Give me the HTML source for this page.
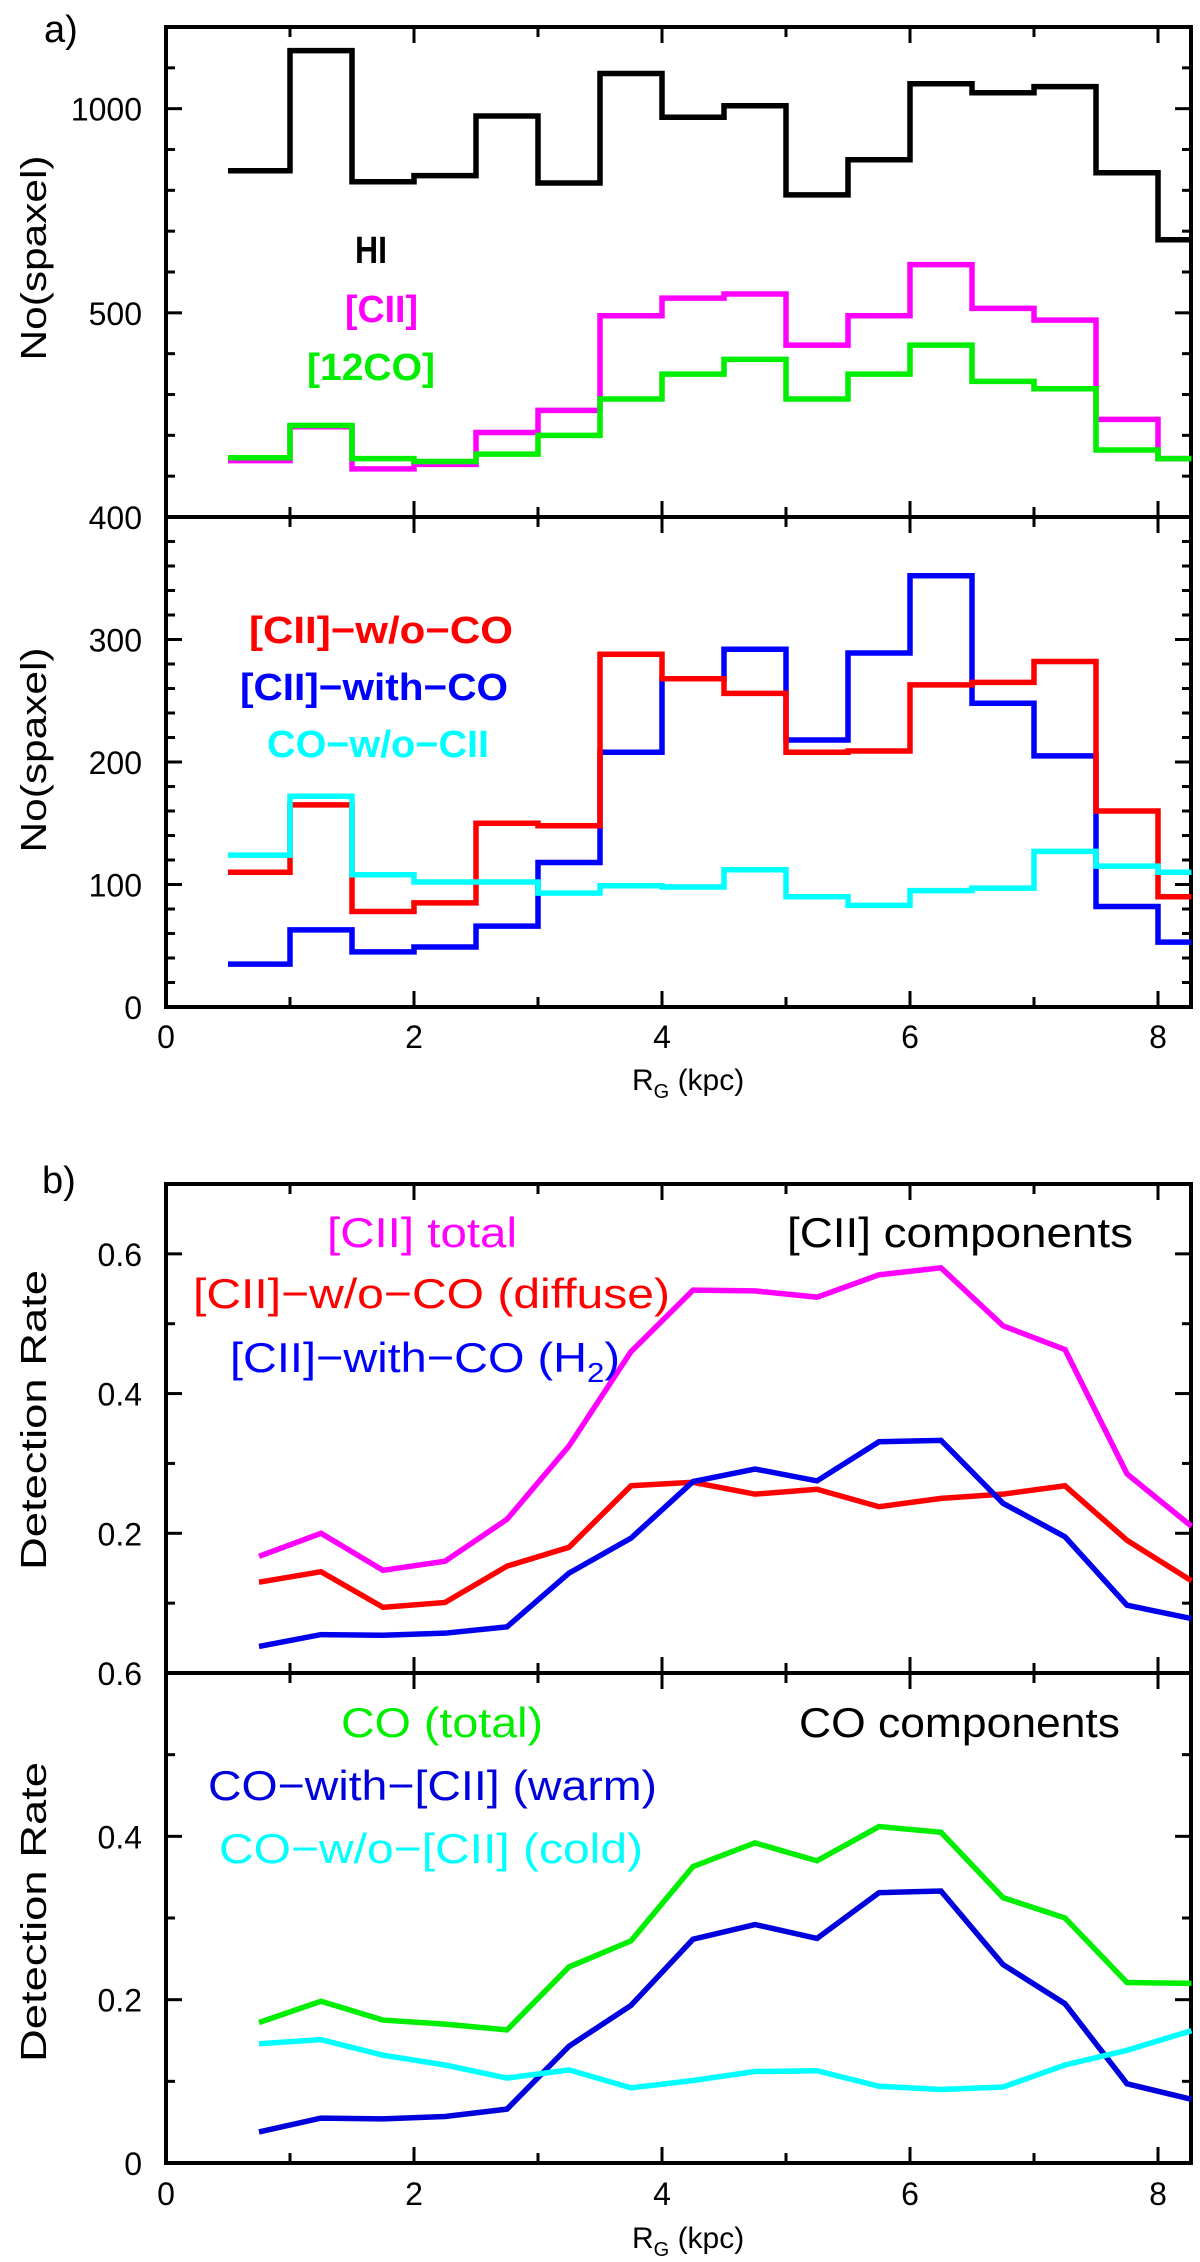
<!DOCTYPE html>
<html><head><meta charset="utf-8"><title>Spaxel counts and detection rates vs galactocentric radius</title>
<style>
html,body{margin:0;padding:0;background:#fff;}
svg{display:block;font-family:"Liberation Sans",sans-serif;}
</style></head>
<body>
<svg id="fig" width="1200" height="2262" viewBox="0 0 1200 2262" xmlns="http://www.w3.org/2000/svg">
<rect x="0" y="0" width="1200" height="2262" fill="#fff"/>
<g id="frames"></g>
<g id="marks"></g>
<g id="labels"></g>
<text x="44" y="42" font-size="38">a)</text>
<text x="42" y="1193" font-size="38">b)</text>
<text transform="translate(46,258) rotate(-90)" text-anchor="middle" font-size="36" textLength="205" lengthAdjust="spacingAndGlyphs">No(spaxel)</text>
<text transform="translate(46,750) rotate(-90)" text-anchor="middle" font-size="36" textLength="205" lengthAdjust="spacingAndGlyphs">No(spaxel)</text>
<text transform="translate(46,1420) rotate(-90)" text-anchor="middle" font-size="36" textLength="300" lengthAdjust="spacingAndGlyphs">Detection Rate</text>
<text transform="translate(46,1912) rotate(-90)" text-anchor="middle" font-size="36" textLength="300" lengthAdjust="spacingAndGlyphs">Detection Rate</text>
<text x="632" y="1090" font-size="30">R<tspan font-size="20" dy="8">G</tspan><tspan dy="-8"> (kpc)</tspan></text>
<text x="632" y="2248" font-size="30">R<tspan font-size="20" dy="8">G</tspan><tspan dy="-8"> (kpc)</tspan></text>
<!-- legends panel a -->
<text x="355" y="263" font-size="38" font-weight="bold" fill="#000" textLength="32" lengthAdjust="spacingAndGlyphs">HI</text>
<text x="345" y="322" font-size="38" font-weight="bold" fill="#ff00ff" textLength="73" lengthAdjust="spacingAndGlyphs">[CII]</text>
<text x="307" y="380" font-size="38" font-weight="bold" fill="#00ee00" textLength="128" lengthAdjust="spacingAndGlyphs">[12CO]</text>
<text x="249" y="643" font-size="38" font-weight="bold" fill="#ff0000" textLength="264" lengthAdjust="spacingAndGlyphs">[CII]−w/o−CO</text>
<text x="240" y="700" font-size="38" font-weight="bold" fill="#0000ff" textLength="268" lengthAdjust="spacingAndGlyphs">[CII]−with−CO</text>
<text x="267" y="757" font-size="38" font-weight="bold" fill="#00ffff" textLength="222" lengthAdjust="spacingAndGlyphs">CO−w/o−CII</text>
<!-- legends panel b -->
<text x="327" y="1247" font-size="42" fill="#ff00ff" textLength="190" lengthAdjust="spacingAndGlyphs">[CII] total</text>
<text x="787" y="1247" font-size="42" fill="#000" textLength="346" lengthAdjust="spacingAndGlyphs">[CII] components</text>
<text x="193" y="1308" font-size="42" fill="#ff0000" textLength="477" lengthAdjust="spacingAndGlyphs">[CII]−w/o−CO (diffuse)</text>
<text x="230" y="1372" font-size="42" fill="#0000ff" textLength="390" lengthAdjust="spacingAndGlyphs">[CII]−with−CO (H<tspan font-size="28" dy="10">2</tspan><tspan dy="-10">)</tspan></text>
<text x="341" y="1737" font-size="42" fill="#00ee00" textLength="202" lengthAdjust="spacingAndGlyphs">CO (total)</text>
<text x="799" y="1737" font-size="42" fill="#000" textLength="321" lengthAdjust="spacingAndGlyphs">CO components</text>
<text x="208" y="1800" font-size="42" fill="#0000dd" textLength="449" lengthAdjust="spacingAndGlyphs">CO−with−[CII] (warm)</text>
<text x="219" y="1863" font-size="42" fill="#00ffff" textLength="424" lengthAdjust="spacingAndGlyphs">CO−w/o−[CII] (cold)</text>
</svg>
<script>
// ---- data ----
const binEdges = [0.5,1,1.5,2,2.5,3,3.5,4,4.5,5,5.5,6,6.5,7,7.5,8,8.27];
const hiCounts = [848,1142,821,836,982,818,1086,979,1007,789,875,1061,1039,1054,843,679];
const ciiCounts = [138,221,118,129,207,261,493,536,546,421,493,618,511,482,239,143];
const coCounts = [145,224,143,136,154,200,289,350,386,289,350,421,332,314,164,143];
const ciiNoCoCounts = [110,165,78,85,150,148,288,268,256,208,209,263,265,282,160,90];
const ciiWithCoCounts = [35,63,45,49,66,118,208,268,292,218,289,352,248,205,82,53];
const coNoCiiCounts = [124,172,108,102,102,93,99,98,112,90,83,95,97,127,115,110];

const rateRadii = [0.75,1.25,1.75,2.25,2.75,3.25,3.75,4.25,4.75,5.25,5.75,6.25,6.75,7.25,7.75,8.27];
const ciiTotalRate = [0.167,0.2,0.147,0.16,0.22,0.325,0.46,0.548,0.547,0.538,0.57,0.58,0.497,0.463,0.285,0.21];
const ciiDiffuseRate = [0.13,0.145,0.094,0.101,0.153,0.18,0.268,0.273,0.256,0.263,0.238,0.25,0.256,0.268,0.19,0.132];
const ciiH2Rate = [0.038,0.055,0.054,0.057,0.066,0.143,0.193,0.274,0.292,0.275,0.331,0.333,0.243,0.195,0.097,0.078];
const coTotalRate = [0.172,0.198,0.175,0.17,0.163,0.24,0.272,0.363,0.392,0.37,0.412,0.405,0.325,0.3,0.221,0.22];
const coWarmRate = [0.038,0.055,0.054,0.057,0.066,0.143,0.193,0.274,0.292,0.275,0.331,0.333,0.243,0.195,0.097,0.078];
const coColdRate = [0.146,0.151,0.132,0.12,0.104,0.114,0.092,0.101,0.112,0.113,0.094,0.09,0.093,0.12,0.138,0.162];

const xTickLabels = ['0','2','4','6','8'];
const aTopTickLabels = ['500','1000'];
const aBotTickLabels = ['0','100','200','300','400'];
const bTopTickLabels = ['0.2','0.4','0.6'];
const bBotTickLabels = ['0','0.2','0.4','0.6'];

// ---- geometry ----
const NS = 'http://www.w3.org/2000/svg';
const X0 = 166, X1 = 1191, PXK = 124;
function xS(v){ return X0 + v*PXK; }
function mkY(vmin,vmax,pmin,pmax){ return v => pmin + (v-vmin)/(vmax-vmin)*(pmax-pmin); }
const panels = {
  aTop:{y:mkY(0,1200,517,27), top:27, bot:517, major:500, minor:100, vmax:1200},
  aBot:{y:mkY(0,400,1007,517), top:517, bot:1007, major:100, minor:20, vmax:400},
  bTop:{y:mkY(0,0.7,1673,1184), top:1184, bot:1673, major:0.2, minor:0.1, vmax:0.7},
  bBot:{y:mkY(0,0.6,2163,1673), top:1673, bot:2163, major:0.2, minor:0.1, vmax:0.6}
};
const frames = document.getElementById('frames');
const marks = document.getElementById('marks');
const labels = document.getElementById('labels');

function line(g,x1,y1,x2,y2,w){
  const l = document.createElementNS(NS,'line');
  l.setAttribute('x1',x1); l.setAttribute('y1',y1); l.setAttribute('x2',x2); l.setAttribute('y2',y2);
  l.setAttribute('stroke','#000'); l.setAttribute('stroke-width',w);
  g.appendChild(l); return l;
}
function txt(g,x,y,s,anchor){
  const t = document.createElementNS(NS,'text');
  t.setAttribute('x',x); t.setAttribute('y',y); t.setAttribute('font-size','32');
  t.setAttribute('text-anchor',anchor); t.textContent = s;
  g.appendChild(t); return t;
}

for (const key of Object.keys(panels)){
  const p = panels[key];
  const r = document.createElementNS(NS,'rect');
  r.setAttribute('x',X0); r.setAttribute('y',p.top); r.setAttribute('width',X1-X0); r.setAttribute('height',p.bot-p.top);
  r.setAttribute('fill','none'); r.setAttribute('stroke','#000'); r.setAttribute('stroke-width','4');
  
  
  frames.appendChild(r);
  for (let k=1;k<=8;k++){
    const len = (k%2===0)?16:10;
    const tb = line(frames,xS(k),p.bot,xS(k),p.bot-len,3);
    
    
    const tt = line(frames,xS(k),p.top,xS(k),p.top+len,3);
    
    
  }
  const n = Math.round(p.vmax/p.minor);
  for (let i=1;i<=n && i*p.minor<p.vmax-1e-9;i++){
    const v = i*p.minor;
    const isMaj = Math.abs(v/p.major - Math.round(v/p.major))<1e-6;
    const len = isMaj?16:9;
    const yy = p.y(v);
    const tl = line(frames,X0,yy,X0+len,yy,3);
    
    
    const tr = line(frames,X1,yy,X1-len,yy,3);
    
    
  }
}

xTickLabels.forEach(s => {
  const a = txt(labels,xS(+s),1048,s,'middle');
  
  
  const b = txt(labels,xS(+s),2205,s,'middle');
  
  
});
[[aTopTickLabels,panels.aTop],[aBotTickLabels,panels.aBot],[bTopTickLabels,panels.bTop],[bBotTickLabels,panels.bBot]].forEach(([arr,p]) => {
  arr.forEach(s => {
    const t = txt(labels,142,p.y(+s)+12,s,'end');
    
    
  });
});

function stepPath(vals,p){
  let d = '';
  vals.forEach((v,i)=>{
    const y = p.y(v);
    d += (i===0?'M':'L') + xS(binEdges[i]) + ',' + y + 'L' + xS(binEdges[i+1]) + ',' + y;
  });
  return d;
}
function linePath(vals,p){
  return vals.map((v,i)=>(i===0?'M':'L') + xS(rateRadii[i]) + ',' + p.y(v)).join('');
}
function series(d,color,w){
  const el = document.createElementNS(NS,'path');
  el.setAttribute('d',d); el.setAttribute('fill','none'); el.setAttribute('stroke',color);
  el.setAttribute('stroke-width',w); el.setAttribute('stroke-linejoin','miter');
  marks.appendChild(el); return el;
}
let s;
s = series(stepPath(hiCounts,panels.aTop),'#000',5.5);


s = series(stepPath(ciiCounts,panels.aTop),'#ff00ff',5.5);


s = series(stepPath(coCounts,panels.aTop),'#00ee00',5.5);


s = series(stepPath(ciiWithCoCounts,panels.aBot),'#0000ff',5.5);


s = series(stepPath(ciiNoCoCounts,panels.aBot),'#ff0000',5.5);


s = series(stepPath(coNoCiiCounts,panels.aBot),'#00ffff',5.5);


s = series(linePath(ciiTotalRate,panels.bTop),'#ff00ff',5.5);


s = series(linePath(ciiDiffuseRate,panels.bTop),'#ff0000',5.5);


s = series(linePath(ciiH2Rate,panels.bTop),'#0000ee',5.5);


s = series(linePath(coTotalRate,panels.bBot),'#00ee00',5.5);


s = series(linePath(coWarmRate,panels.bBot),'#0000dd',5.5);


s = series(linePath(coColdRate,panels.bBot),'#00ffff',5.5);


</script>
</body></html>
